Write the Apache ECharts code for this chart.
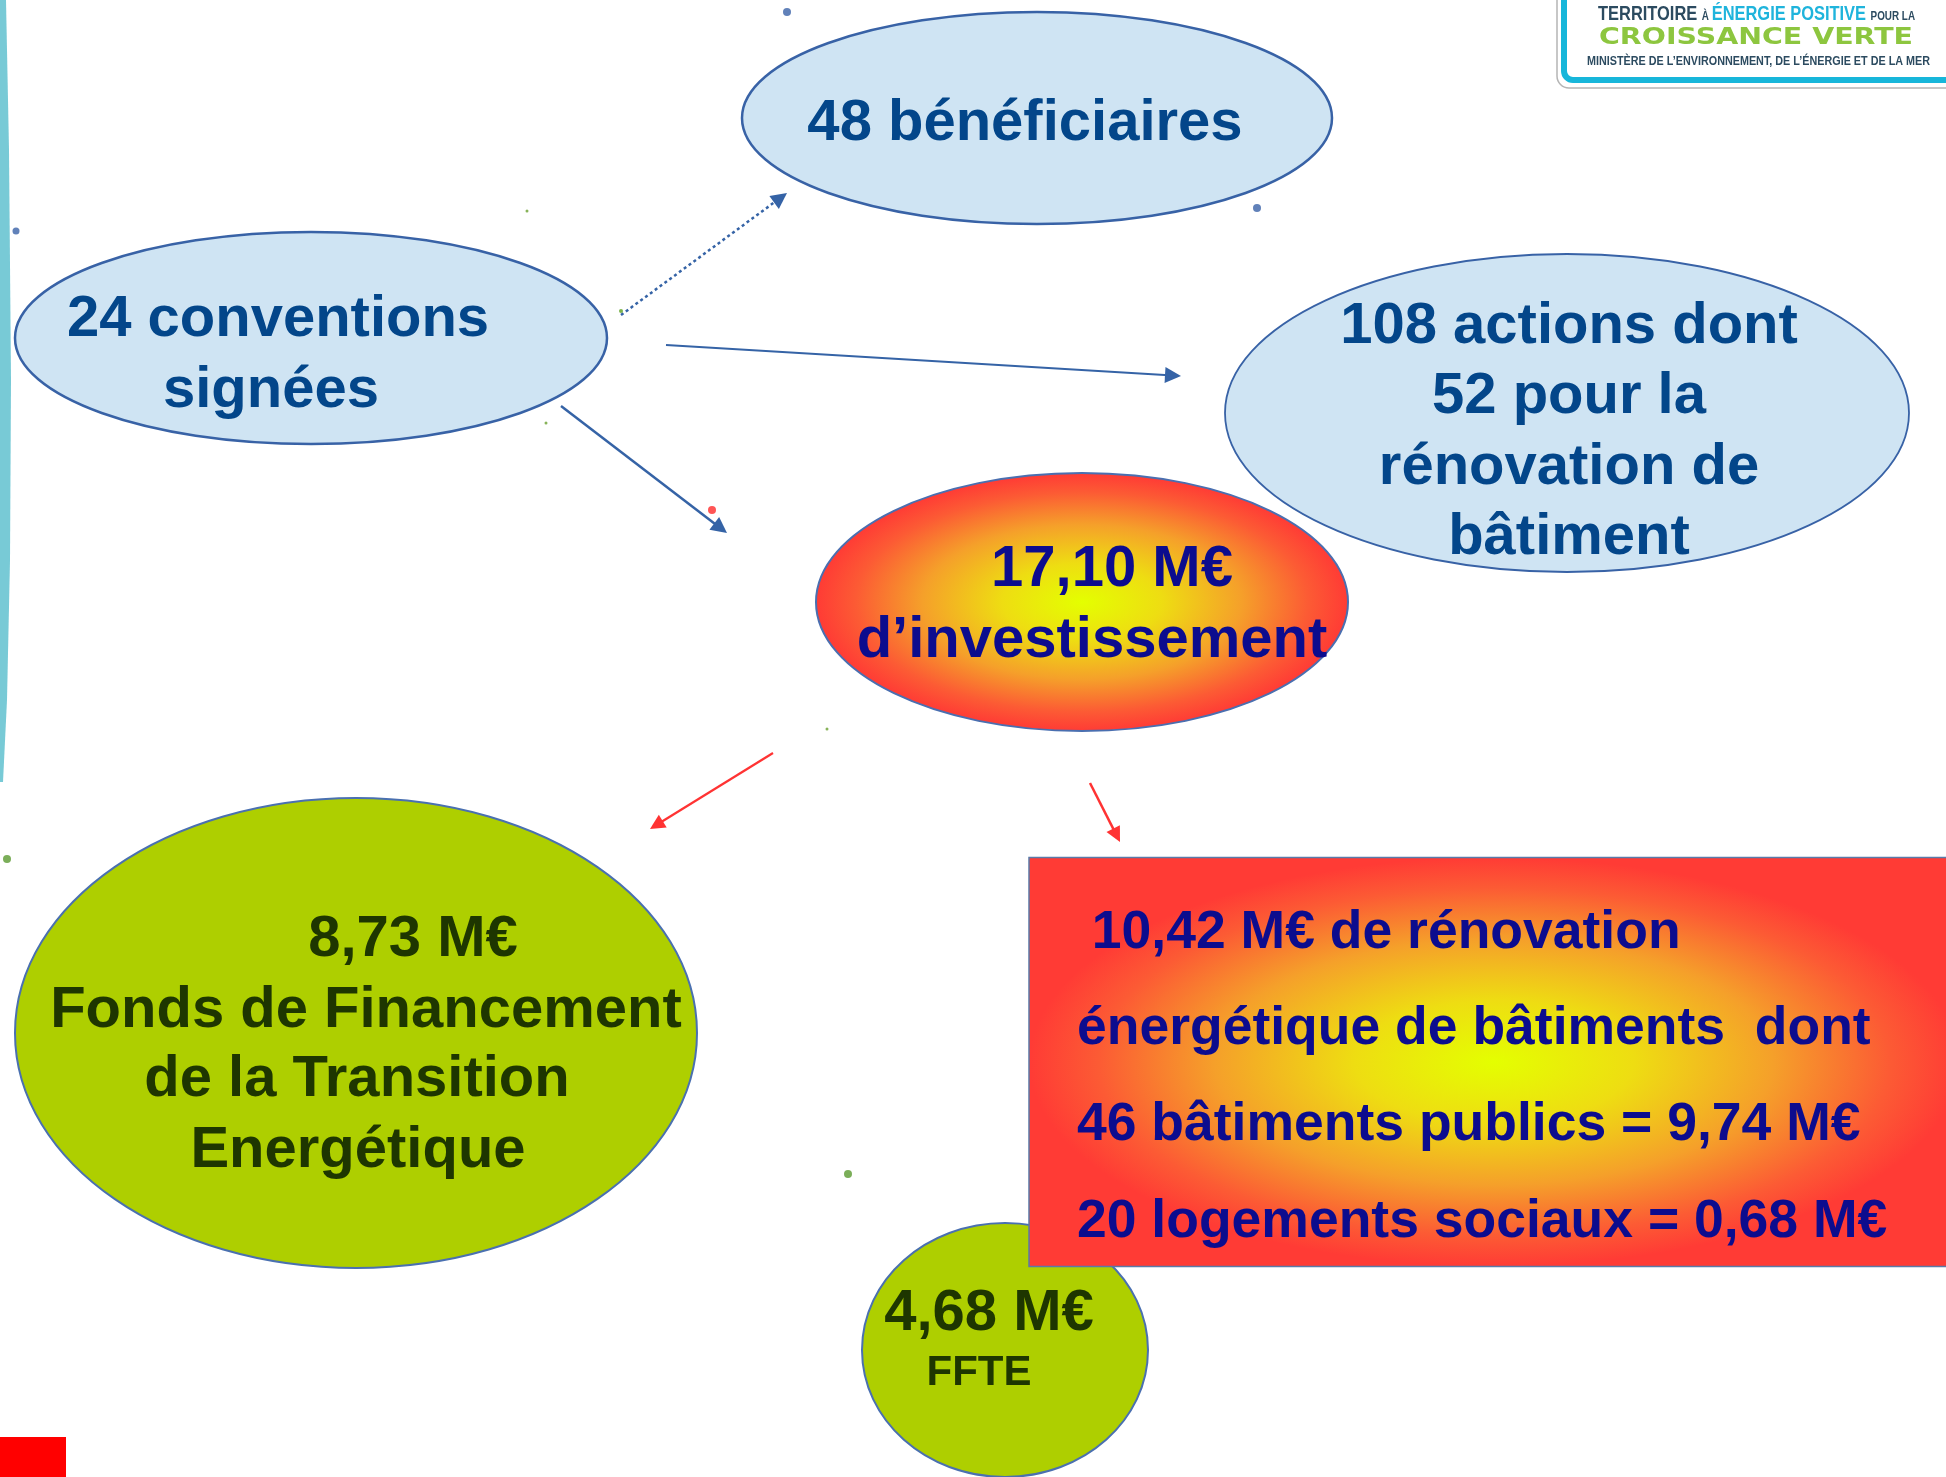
<!DOCTYPE html>
<html>
<head>
<meta charset="utf-8">
<script src="https://cdn.jsdelivr.net/npm/echarts@6/dist/echarts.min.js"></script>
<style>
html,body{margin:0;padding:0;background:#ffffff;}
#c{width:1946px;height:1477px;}
</style>
</head>
<body>
<div id="c"></div>
<script>
// ---------------- DATA ----------------
const countLabels = ['conventions signées', 'bénéficiaires', 'actions', 'dont rénovation de bâtiment', 'bâtiments publics', 'logements sociaux'];
const countValues = [24, 48, 108, 52, 46, 20];
const amountLabels = ['investissement', 'Fonds de Financement de la Transition Energétique', 'FFTE', 'rénovation énergétique de bâtiments', 'bâtiments publics', 'logements sociaux'];
const amountValues = [17.10, 8.73, 4.68, 10.42, 9.74, 0.68]; // M€

const fmt = v => v.toFixed(2).replace('.', ',');

const nodeLines = [
  [`${countValues[1]} bénéficiaires`],
  [`${countValues[0]} conventions`, 'signées'],
  [`${countValues[2]} actions dont`, `${countValues[3]} pour la`, 'rénovation de', 'bâtiment'],
  [`${fmt(amountValues[0])} M€`, 'd\u2019investissement'],
  [`${fmt(amountValues[1])} M€`, 'Fonds de Financement', 'de la Transition', 'Energétique'],
  [`${fmt(amountValues[2])} M€`, 'FFTE'],
  [` ${fmt(amountValues[3])} M€ de rénovation`, 'énergétique de bâtiments  dont',
   `${countValues[4]} bâtiments publics = ${fmt(amountValues[4])} M€`,
   `${countValues[5]} logements sociaux = ${fmt(amountValues[5])} M€`]
];

// ---------------- LAYOUT / STYLE ----------------
const BLUE_FILL = '#cfe4f3', BLUE_TEXT = '#03468a', BLUE_STROKE = '#3862a6';
const GREEN_FILL = '#aecf00', GREEN_TEXT = '#1e3600';
const NAVY = '#0c0c8e';
const FONT = '"Liberation Sans", Arial, Helvetica, sans-serif';

const hotStops = [
  {offset: 0, color: '#e4ff00'},
  {offset: 0.3, color: '#eedd12'},
  {offset: 0.6, color: '#f5a02a'},
  {offset: 0.85, color: '#fc5b34'},
  {offset: 1, color: '#ff3b35'}
];

const nodeLayout = [
  {kind: 'ellipse', cx: 1037, cy: 118, rx: 295, ry: 106, fill: BLUE_FILL, stroke: BLUE_STROKE, lw: 2.5, size: [58], color: BLUE_TEXT, align: 'center', pos: [[1025, 124]]},
  {kind: 'ellipse', cx: 311, cy: 338, rx: 296, ry: 106, fill: BLUE_FILL, stroke: BLUE_STROKE, lw: 2.5, size: [58, 58], color: BLUE_TEXT, align: 'center', pos: [[278, 320], [271, 391]]},
  {kind: 'ellipse', cx: 1567, cy: 413, rx: 342, ry: 159, fill: BLUE_FILL, stroke: BLUE_STROKE, lw: 1.8, size: [58, 58, 58, 58], color: BLUE_TEXT, align: 'center', pos: [[1569, 327], [1569, 397], [1569, 468], [1569, 538]]},
  {kind: 'ellipse', cx: 1082, cy: 602, rx: 266, ry: 129, grad: true, stroke: '#4a6fb0', lw: 2, size: [58, 58], color: NAVY, align: 'center', pos: [[1112, 570], [1092, 641]]},
  {kind: 'ellipse', cx: 356, cy: 1033, rx: 341, ry: 235, fill: GREEN_FILL, stroke: '#4a70b0', lw: 2, size: [58, 58, 58, 58], color: GREEN_TEXT, align: 'center', pos: [[413, 940], [366, 1011], [357, 1080], [358, 1151]]},
  {kind: 'ellipse', cx: 1005, cy: 1350, rx: 143, ry: 127, fill: GREEN_FILL, stroke: '#4a70b0', lw: 2, size: [58, 42], color: GREEN_TEXT, align: 'center', pos: [[989, 1314], [979, 1373]]},
  {kind: 'rect', cx: 1494, cy: 1062, rx: 465, ry: 204.5, grad: true, stroke: '#5a7aa8', lw: 1.5, size: [53.5, 53.5, 53.5, 53.5], color: NAVY, align: 'left', pos: [[1077, 933], [1077, 1029], [1077, 1125], [1077, 1222]]}
];

const arrowLayout = [
  {from: [621, 315], to: [787, 193], color: '#3563a6', width: 2.5, type: [3, 3]},
  {from: [666, 345], to: [1181, 376], color: '#3563a6', width: 2.2, type: 'solid'},
  {from: [561, 406], to: [727, 533], color: '#3563a6', width: 2.5, type: 'solid'},
  {from: [773, 753], to: [650, 829], color: '#ff3333', width: 2.2, type: 'solid'},
  {from: [1090, 783], to: [1120, 842], color: '#ff3333', width: 2.5, type: 'solid'}
];

const dotLayout = [
  {p: [787, 12], s: 8, c: '#3a62a8'}, {p: [1257, 208], s: 8, c: '#3a62a8'}, {p: [16, 231], s: 7, c: '#3a62a8'},
  {p: [712, 510], s: 8, c: '#ff2a2a'}, {p: [7, 859], s: 8, c: '#5a9a30'}, {p: [848, 1174], s: 8, c: '#5a9a30'},
  {p: [527, 211], s: 3, c: '#6aa030'}, {p: [546, 423], s: 3, c: '#6aa030'}, {p: [827, 729], s: 3, c: '#6aa030'},
  {p: [621, 311], s: 4, c: '#5aa020'}
];

function backOff(from, to, d) {
  const dx = to[0] - from[0], dy = to[1] - from[1], L = Math.hypot(dx, dy);
  return [to[0] - dx / L * d, to[1] - dy / L * d];
}

function textEl(x, y, text, font, fill, align, extra) {
  return Object.assign({
    type: 'text', x: x, y: y,
    style: {text: text, font: font, fill: fill, align: align, textAlign: align,
            verticalAlign: 'middle', textVerticalAlign: 'middle'}
  }, extra || {});
}

function renderNode(params, api) {
  const L = nodeLayout[params.dataIndex];
  const lines = nodeLines[params.dataIndex];
  const c = api.coord([L.cx, L.cy]);
  const sz = api.size([L.rx, L.ry]);
  const rx = Math.abs(sz[0]), ry = Math.abs(sz[1]);
  const children = [];
  const grad = L.grad ? new echarts.graphic.RadialGradient(0.5, 0.5, 0.5, hotStops) : null;
  if (L.kind === 'ellipse') {
    if (grad) {
      children.push({type: 'circle', x: c[0], y: c[1], scaleX: rx / ry, scaleY: 1,
        shape: {cx: 0, cy: 0, r: ry}, style: {fill: grad}});
      children.push({type: 'ellipse', shape: {cx: c[0], cy: c[1], rx: rx, ry: ry},
        style: {fill: null, stroke: L.stroke, lineWidth: L.lw}});
    } else {
      children.push({type: 'ellipse', shape: {cx: c[0], cy: c[1], rx: rx, ry: ry},
        style: {fill: L.fill, stroke: L.stroke, lineWidth: L.lw}});
    }
  } else {
    children.push({type: 'rect', x: c[0], y: c[1], scaleX: rx / ry, scaleY: 1,
      shape: {x: -ry, y: -ry, width: 2 * ry, height: 2 * ry}, style: {fill: grad}});
    children.push({type: 'rect', shape: {x: c[0] - rx, y: c[1] - ry, width: 2 * rx, height: 2 * ry},
      style: {fill: null, stroke: L.stroke, lineWidth: L.lw}});
  }
  lines.forEach((t, i) => {
    const p = api.coord(L.pos[i]);
    children.push(textEl(p[0], p[1], t, 'bold ' + L.size[i] + 'px ' + FONT, L.color, L.align));
  });
  return {type: 'group', children: children};
}

// ------------- logo (decoration) -------------
const mctx = document.createElement('canvas').getContext('2d');
function textW(t, font) { mctx.font = font; return mctx.measureText(t).width; }
const LOGO_DARK = '#2c4b60', LOGO_CYAN = '#1fb4dc', LOGO_GREEN = '#8dc63f';
const logoEls = [];
logoEls.push({type: 'rect', shape: {x: 1557, y: -30, width: 420, height: 118, r: 12},
  style: {fill: '#ffffff', stroke: '#b5b5b5', lineWidth: 1.5}});
logoEls.push({type: 'rect', shape: {x: 1564, y: -30, width: 410, height: 110, r: 9},
  style: {fill: '#ffffff', stroke: '#17b6da', lineWidth: 6}});
(function () {
  const pieces = [['TERRITOIRE ', 20, LOGO_DARK], ['À ', 12, LOGO_DARK], ['ÉNERGIE POSITIVE ', 20, LOGO_CYAN], ['POUR LA', 12, LOGO_DARK]];
  const fonts = pieces.map(p => 'bold ' + p[1] + 'px ' + FONT);
  const widths = pieces.map((p, i) => textW(p[0], fonts[i]));
  const total = widths.reduce((a, b) => a + b, 0);
  const sc = (1915 - 1598) / total;
  let cx = 1598;
  const base = 21;
  pieces.forEach((p, i) => {
    logoEls.push(textEl(cx, base - 0.35 * p[1], p[0], fonts[i], p[2], 'left', {scaleX: sc}));
    cx += widths[i] * sc;
  });
  const f2 = 'bold 23px "DejaVu Sans", ' + FONT;
  const t2 = 'CROISSANCE VERTE';
  logoEls.push(textEl(1599, 46 - 0.35 * 23, t2, f2, LOGO_GREEN, 'left', {scaleX: (1913 - 1599) / textW(t2, f2)}));
  const f3 = 'bold 13px ' + FONT;
  const t3 = 'MINISTÈRE DE L\u2019ENVIRONNEMENT, DE L\u2019ÉNERGIE ET DE LA MER';
  logoEls.push(textEl(1587, 66 - 0.35 * 13, t3, f3, LOGO_DARK, 'left', {scaleX: (1930 - 1587) / textW(t3, f3)}));
})();

const decoEls = [
  {type: 'polygon', shape: {points: [[0, 0], [6, 0], [9, 150], [11, 380], [10, 560], [7, 700], [3, 782], [0, 782]]},
   style: {fill: '#78cad6'}},
  {type: 'rect', shape: {x: 0, y: 1437, width: 66, height: 40}, style: {fill: '#ff0000'}}
].concat(logoEls);

const blueArrows = arrowLayout.slice(0, 3), redArrows = arrowLayout.slice(3);
function arrowData(list, len) {
  return list.map(a => ({coords: [a.from, backOff(a.from, a.to, len / 2)],
    lineStyle: {color: a.color, width: a.width, type: a.type, opacity: 1}}));
}

const chart = echarts.init(document.getElementById('c'), null, {renderer: 'canvas'});
chart.setOption({
  animation: false,
  backgroundColor: '#ffffff',
  grid: {left: 0, right: 0, top: 0, bottom: 0, containLabel: false},
  xAxis: {type: 'value', min: 0, max: 1946, show: false},
  yAxis: {type: 'value', min: 0, max: 1477, inverse: true, show: false},
  graphic: {elements: decoEls},
  series: [
    {
      type: 'custom', name: 'nodes', coordinateSystem: 'cartesian2d', clip: false,
      data: nodeLayout.map(n => [n.cx, n.cy]),
      renderItem: renderNode, z: 2, silent: true
    },
    {
      type: 'lines', name: 'flux bleus', coordinateSystem: 'cartesian2d', z: 4,
      symbol: ['none', 'triangle'], symbolSize: [13, 16],
      lineStyle: {opacity: 1},
      data: arrowData(blueArrows, 16), silent: true
    },
    {
      type: 'lines', name: 'flux rouges', coordinateSystem: 'cartesian2d', z: 4,
      symbol: ['none', 'triangle'], symbolSize: [14, 15],
      lineStyle: {opacity: 1},
      data: arrowData(redArrows, 15), silent: true
    },
    {
      type: 'scatter', name: 'points', z: 5, silent: true,
      data: dotLayout.map(d => ({value: d.p, symbolSize: d.s, itemStyle: {color: d.c}}))
    }
  ]
});
</script>
</body>
</html>
